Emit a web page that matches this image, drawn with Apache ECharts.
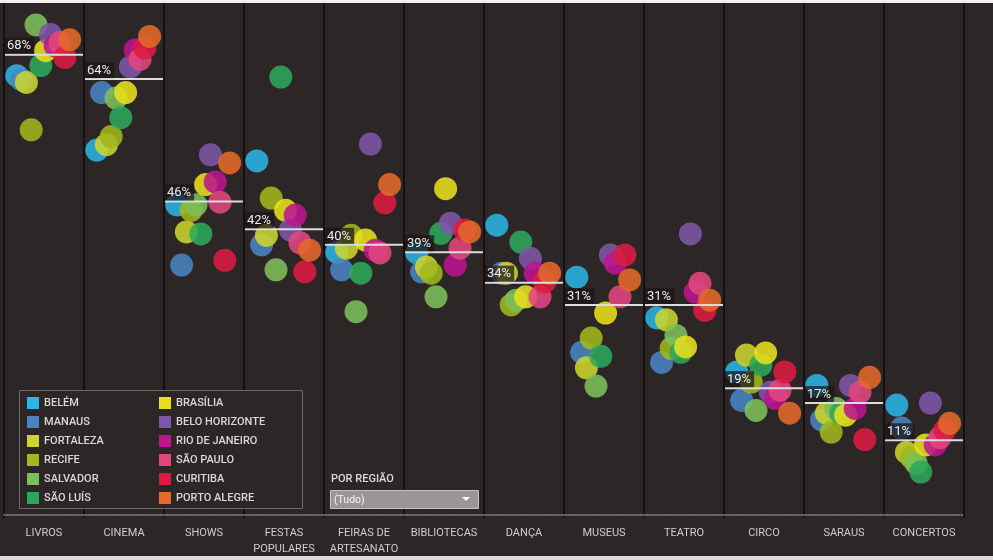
<!DOCTYPE html>
<html>
<head>
<meta charset="utf-8">
<script src="https://cdn.jsdelivr.net/npm/echarts@6/dist/echarts.min.js"></script>
<style>
  html, body { margin: 0; padding: 0; background: #ffffff; }
  #chart { width: 993px; height: 560px; }
</style>
</head>
<body>
<div id="chart"></div>
<script>
// ---- Data (percent of respondents) ----
const categories = ['LIVROS', 'CINEMA', 'SHOWS', 'FESTAS\nPOPULARES', 'FEIRAS DE\nARTESANATO', 'BIBLIOTECAS', 'DANÇA', 'MUSEUS', 'TEATRO', 'CIRCO', 'SARAUS', 'CONCERTOS'];
const averages = [68.0, 64.4, 46.3, 42.2, 39.9, 38.8, 34.3, 31.0, 31.0, 18.7, 16.5, 11.0];

const cities = ['BELÉM', 'MANAUS', 'FORTALEZA', 'RECIFE', 'SALVADOR', 'SÃO LUÍS', 'BRASÍLIA', 'BELO HORIZONTE', 'RIO DE JANEIRO', 'SÃO PAULO', 'CURITIBA', 'PORTO ALEGRE'];

const belem         = [64.9, 53.9, 45.8, 52.3, 38.8, 38.7, 42.8, 35.1, 29.1, 21.1, 19.1, 16.2];
const manaus        = [64.3, 62.4, 36.9, 39.9, 36.2, 35.9, 35.7, 24.0, 22.5, 16.9, 14.0, 12.8];
const fortaleza     = [63.9, 54.7, 41.8, 41.3, 39.4, 36.6, 35.7, 21.7, 28.8, 23.6, 15.0, 9.2];
const recife        = [56.9, 55.9, 45.0, 46.8, 41.3, 35.7, 31.0, 26.1, 24.6, 19.6, 12.2, 8.5];
const salvador      = [72.4, 61.6, 45.8, 36.2, 30.0, 32.2, 31.7, 19.0, 26.5, 15.4, 15.7, 7.6];
const saoLuis       = [66.4, 58.7, 41.5, 64.7, 35.7, 41.6, 40.3, 23.4, 24.0, 22.1, 15.0, 6.3];
const brasilia      = [68.6, 62.4, 48.8, 45.0, 40.6, 48.2, 32.2, 29.8, 24.8, 23.9, 14.7, 10.3];
const beloHorizonte = [71.0, 66.2, 53.2, 42.1, 54.8, 43.1, 37.9, 38.4, 41.5, 18.1, 19.1, 16.5];
const rioDeJaneiro  = [69.3, 68.7, 49.2, 44.3, 39.1, 36.9, 35.7, 37.2, 32.9, 17.2, 15.7, 10.3];
const saoPaulo      = [69.8, 67.3, 46.2, 40.2, 38.7, 39.4, 32.2, 32.2, 34.2, 18.4, 18.1, 11.4];
const curitiba      = [67.6, 69.0, 37.6, 35.9, 46.1, 42.1, 34.4, 38.4, 30.2, 21.1, 11.1, 12.5];
const portoAlegre   = [70.2, 70.7, 52.0, 39.1, 48.8, 41.8, 35.7, 34.7, 31.7, 15.0, 20.3, 13.5];

const cityValues = [belem, manaus, fortaleza, recife, salvador, saoLuis, brasilia, beloHorizonte, rioDeJaneiro, saoPaulo, curitiba, portoAlegre];

// ---- Styles ----
const colors = ['#29b5e6', '#4a84c4', '#ccd52e', '#a0b81c', '#7cbf5a', '#2ca85b', '#e8e01c', '#7e56a8', '#bd1690', '#e2477f', '#dd1b42', '#e5692b'];
const BG = '#2c2627';
const FONT = 'Roboto, "Noto Sans", sans-serif';

// dodge cities inside each category band (region order, left to right)
const dodgeStart = 0.16, dodgeSpan = 0.66;

const chart = echarts.init(document.getElementById('chart'), null, { renderer: 'canvas' });

const scatterSeries = cities.map((name, k) => ({
  type: 'scatter',
  name: name,
  xAxisIndex: 1,
  yAxisIndex: 0,
  symbolSize: 23,
  itemStyle: { color: colors[k], opacity: 0.88 },
  emphasis: { disabled: true },
  z: 2,
  data: cityValues[k].map((v, i) => [i + dodgeStart + k * dodgeSpan / (cities.length - 1), v])
}));

const avgSeries = {
  type: 'custom',
  name: 'média',
  xAxisIndex: 1,
  yAxisIndex: 0,
  z: 6,
  data: averages.map((a, i) => [i, a]),
  renderItem: function (params, api) {
    const x0 = api.value(0), y = api.value(1);
    const p0 = api.coord([x0, y]);
    const p1 = api.coord([x0 + 1, y]);
    return {
      type: 'group',
      children: [
        { type: 'line', shape: { x1: p0[0] + 1, y1: p0[1], x2: p1[0] - 1, y2: p1[1] },
          style: { stroke: '#dcdcdc', lineWidth: 2 } },
        { type: 'text', x: p0[0] + 1, y: p0[1] - 1,
          style: { text: Math.round(y) + '%', fill: '#ebebeb', font: '13px ' + FONT,
                   backgroundColor: 'rgba(26,21,22,0.72)', padding: [2, 3, 1, 2],
                   align: 'left', verticalAlign: 'bottom' } }
      ]
    };
  }
};

const legendBase = {
  orient: 'vertical',
  icon: 'rect',
  itemWidth: 12,
  itemHeight: 12,
  itemGap: 7,
  itemStyle: { opacity: 1 },
  selectedMode: false,
  z: 10,
  textStyle: { color: '#d9d9d9', fontSize: 11, fontFamily: FONT, fontWeight: 500, lineHeight: 12 }
};

const option = {
  backgroundColor: BG,
  animation: false,
  grid: { left: 4, right: 29, top: 3, bottom: 42, containLabel: false },
  xAxis: [
    {
      type: 'category',
      data: categories,
      boundaryGap: true,
      axisLine: { show: true, lineStyle: { color: '#8a8485', type: 'dotted', width: 1.5 } },
      axisTick: { show: false },
      axisLabel: { color: '#cfcdce', fontSize: 11, fontFamily: FONT, margin: 7, lineHeight: 16, interval: 0 },
      splitLine: { show: true, interval: 0, lineStyle: { color: '#141011', width: 2 } }
    },
    { type: 'value', min: 0, max: 12, show: false }
  ],
  yAxis: {
    type: 'value', min: -0.5, max: 75.65, show: false,
    splitLine: { show: false }
  },
  legend: [
    Object.assign({}, legendBase, { data: cities.slice(0, 6), left: 22, top: 392 }),
    Object.assign({}, legendBase, { data: cities.slice(6), left: 154, top: 392 })
  ],
  graphic: [
    { type: 'rect', z: 1, shape: { x: 0, y: 0, width: 993, height: 3 }, style: { fill: '#f1efef' } },
    { type: 'rect', z: 1, shape: { x: 0, y: 556, width: 993, height: 4 }, style: { fill: '#dcd8d8' } },
    { type: 'rect', z: 5, shape: { x: 19.5, y: 390.5, width: 283, height: 118 }, style: { fill: BG, stroke: '#6e6869', lineWidth: 1 } },
    { type: 'text', z: 5, x: 331, y: 479, style: { text: 'POR REGIÃO', fill: '#dcdcdc', font: '500 11px ' + FONT, verticalAlign: 'middle' } },
    { type: 'rect', z: 5, shape: { x: 330.5, y: 490.5, width: 148, height: 18 }, style: { fill: '#9b9596', stroke: '#c6c2c2', lineWidth: 1 } },
    { type: 'text', z: 6, x: 334, y: 500, style: { text: '(Tudo)', fill: '#f7f7f7', font: '10.5px ' + FONT, verticalAlign: 'middle' } },
    { type: 'polygon', z: 6, shape: { points: [[462, 497], [470, 497], [466, 501]] }, style: { fill: '#ffffff' } }
  ],
  series: scatterSeries.concat([avgSeries])
};

chart.setOption(option);
</script>
</body>
</html>
